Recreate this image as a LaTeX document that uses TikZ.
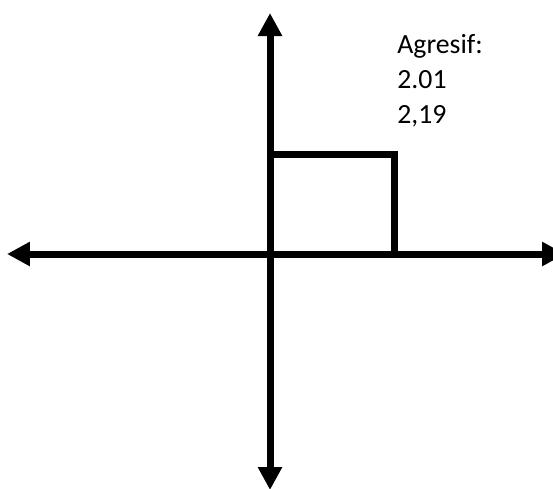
\documentclass[tikz,border=0pt]{standalone}
\usepackage{fontspec}
\setmainfont{Carlito}
\usetikzlibrary{arrows.meta}

\begin{document}
\begin{tikzpicture}[
    x=0.02cm, y=-0.02cm,
    axis/.style={line width=0.14cm, {Triangle[length=0.46cm, width=0.46cm]}-{Triangle[length=0.46cm, width=0.46cm]}},
    box/.style={line width=0.14cm, line join=miter},
    val/.style={font=\fontsize{15.8}{19}\selectfont, anchor=base west, inner sep=0pt},
]
\useasboundingbox (0,0) rectangle (553,488);

% ================================================ axes
\coordinate (west) at (7,254);
\coordinate (east) at (565,254);
\coordinate (north) at (270,13);
\coordinate (south) at (270,490);
\coordinate (origin) at (270,254);
\draw[axis] (west) -- (east);
\draw[axis] (south) -- (north);

% ================================================ the box
\coordinate (corner) at (394,154.5);
\draw[box] (origin |- corner) -- (corner) -- (corner |- origin);

% ================================================ values
\node[val] (title) at (397,53) {Agresif:};
\node[val] (first) at (397,88) {2.01};
\node[val] (second) at (397,123) {2,19};

\end{tikzpicture}
\end{document}
